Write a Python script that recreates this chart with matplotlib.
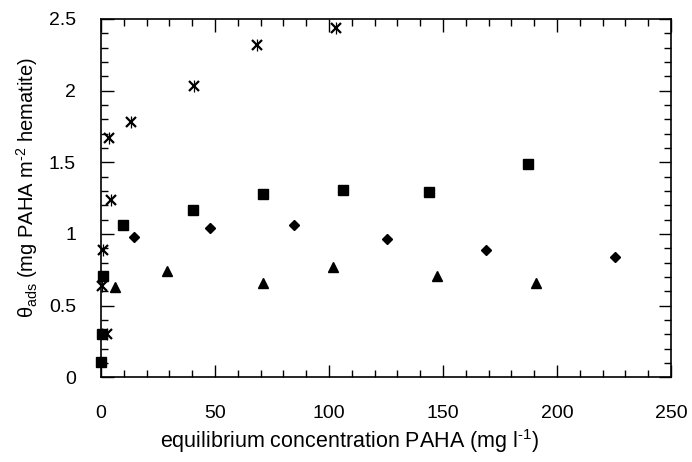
import matplotlib
matplotlib.use("Agg")
import matplotlib.pyplot as plt
from matplotlib.ticker import MultipleLocator, FuncFormatter

plt.rcParams['font.family'] = ['Liberation Sans', 'DejaVu Sans']
plt.rcParams['mathtext.fontset'] = 'custom'
plt.rcParams['mathtext.rm'] = 'Liberation Sans'
plt.rcParams['mathtext.it'] = 'Liberation Sans:italic'

# data
star_x = [0.3, 1.0, 2.5, 4.4, 3.4, 13.0, 40.9, 68.3, 103.0]
star_y = [0.64, 0.89, 0.30, 1.24, 1.67, 1.78, 2.03, 2.32, 2.44]

square_x = [0.0, 0.3, 1.0, 9.5, 40.5, 70.9, 106.0, 143.9, 187.1]
square_y = [0.11, 0.30, 0.71, 1.06, 1.17, 1.28, 1.31, 1.29, 1.49]

diamond_x = [14.5, 47.8, 84.8, 125.6, 169.0, 225.4]
diamond_y = [0.98, 1.04, 1.06, 0.965, 0.89, 0.84]

triangle_x = [6.1, 29.1, 71.2, 101.9, 147.5, 190.8]
triangle_y = [0.63, 0.74, 0.66, 0.77, 0.71, 0.66]

x_ticks = [0, 50, 100, 150, 200, 250]
y_ticks = [0, 0.5, 1, 1.5, 2, 2.5]

fig = plt.figure(figsize=(6.92, 4.62), dpi=100)
ax = fig.add_axes([101/692, 1-377.3/462, 570/692, 358.3/462])

# star marker: an X with a vertical bar
ax.plot(star_x, star_y, linestyle='none', marker='x', markersize=6.5,
        markeredgewidth=1.6, color='black', clip_on=False)
ax.plot(star_x, star_y, linestyle='none', marker='|', markersize=8,
        markeredgewidth=0.9, color='black', clip_on=False)
ax.plot(square_x, square_y, linestyle='none', marker='s', markersize=7.5,
        color='black', clip_on=False)
ax.plot(diamond_x, diamond_y, linestyle='none', marker='D', markersize=5.5,
        color='black', clip_on=False)
ax.plot(triangle_x, triangle_y, linestyle='none', marker='^', markersize=7,
        color='black', clip_on=False)

ax.set_xlim(0, 250)
ax.set_ylim(0, 2.5)
ax.set_xticks(x_ticks)
ax.set_yticks(y_ticks)
ax.xaxis.set_minor_locator(MultipleLocator(10))
ax.yaxis.set_minor_locator(MultipleLocator(0.1))
ax.yaxis.set_major_formatter(FuncFormatter(lambda v, p: ('%g' % v)))

ax.tick_params(which='both', direction='in', top=True, right=True, width=1.0)
ax.tick_params(which='major', length=9, labelsize=14)
ax.tick_params(axis='x', which='major', pad=20)
ax.tick_params(axis='y', which='major', pad=18)
ax.tick_params(which='minor', length=5)
for s in ax.spines.values():
    s.set_linewidth(1.2)

ax.set_xlabel('equilibrium concentration PAHA (mg l$^{\\rm \u2010 1}$)', fontsize=15.5,
              va='center')
ax.xaxis.set_label_coords((350-101)/570, (377.3-441)/358.3)
ax.set_ylabel('θ$_{\\rm ads}$ (mg PAHA m$^{\\rm \u2010 2}$ hematite)', fontsize=14.5,
              va='center')
ax.yaxis.set_label_coords((27-101)/570, (377.3-187)/358.3)

fig.savefig('out.png', dpi=100)
